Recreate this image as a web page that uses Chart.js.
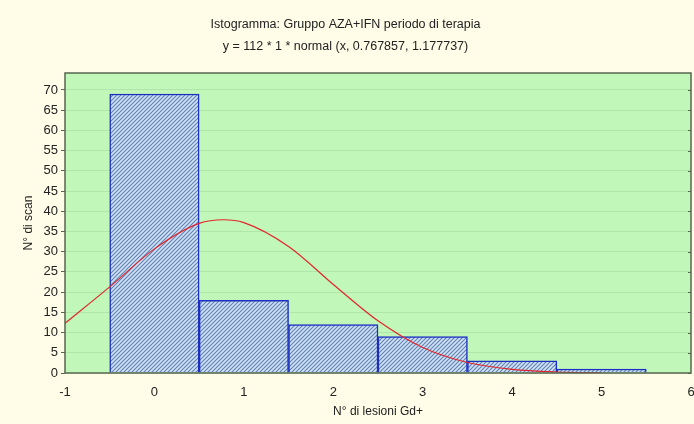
<!DOCTYPE html>
<html>
<head>
<meta charset="utf-8">
<script src="https://cdn.jsdelivr.net/npm/chart.js@4.4.1/dist/chart.umd.min.js"></script>
<style>
  html, body { margin: 0; padding: 0; background: #fffde8; }
  #wrap { width: 694px; height: 424px; }
</style>
</head>
<body>
<div id="wrap"><canvas id="chartIsto"></canvas></div>
<script>
// ---- dati ----
const lesioni = [0, 1, 2, 3, 4, 5];
const nScan = [69, 18, 12, 9, 3, 1];

const curvaX = [-1, -0.5, 0, 0.5, 0.77, 1, 1.5, 2, 2.5, 3, 3.5, 4, 4.5, 5];
const curvaY = [12.3, 21.3, 30.7, 37.0, 37.9, 37.2, 31.3, 21.9, 12.9, 6.3, 2.6, 0.9, 0.25, 0.06];

const xTicks = [-1, 0, 1, 2, 3, 4, 5, 6];
const yTicks = [0, 5, 10, 15, 20, 25, 30, 35, 40, 45, 50, 55, 60, 65, 70];

// ---- tratteggio delle barre ----
function makeHatch() {
    const c = document.createElement('canvas');
    c.width = 4; c.height = 4;
    const g = c.getContext('2d');
    g.fillStyle = '#d3e2f2';
    g.fillRect(0, 0, 4, 4);
    g.strokeStyle = '#5a80b8';
    g.lineWidth = 1.1;
    g.beginPath();
    g.moveTo(-1, 5); g.lineTo(5, -1);
    g.moveTo(-1, 1); g.lineTo(1, -1);
    g.moveTo(3, 5); g.lineTo(5, 3);
    g.stroke();
    return g.createPattern(c, 'repeat');
}

const sfondo = {
    id: 'sfondo',
    beforeDraw(chart) {
        const { ctx, chartArea: a } = chart;
        ctx.save();
        ctx.fillStyle = '#fffde8';
        ctx.fillRect(0, 0, chart.width, chart.height);
        ctx.fillStyle = '#c2f7ba';
        ctx.fillRect(a.left, a.top, a.right - a.left, a.bottom - a.top);
        ctx.restore();
    },
    afterDraw(chart) {
        const { ctx, chartArea: a, scales } = chart;
        ctx.save();
        ctx.strokeStyle = '#56664e';
        ctx.lineWidth = 1.5;
        ctx.strokeRect(a.left, a.top, a.right - a.left, a.bottom - a.top);
        // tacche interne sul lato destro
        ctx.lineWidth = 1;
        yTicks.forEach(v => {
            const y = Math.round(scales.y.getPixelForValue(v)) + 0.5;
            ctx.beginPath();
            ctx.moveTo(a.right - 3, y);
            ctx.lineTo(a.right, y);
            ctx.stroke();
        });
        ctx.restore();
    }
};

const ctx = document.getElementById('chartIsto').getContext('2d');
new Chart(ctx, {
    data: {
        datasets: [
            {
                type: 'line',
                label: 'normale',
                data: curvaX.map((x, i) => ({ x: x, y: curvaY[i] })),
                borderColor: '#e0262c',
                borderWidth: 1.2,
                pointRadius: 0,
                cubicInterpolationMode: 'monotone',
                fill: false,
                order: 0
            },
            {
                type: 'bar',
                label: 'N° di scan',
                data: lesioni.map((x, i) => ({ x: x, y: nScan[i] })),
                backgroundColor: makeHatch(),
                borderColor: '#1c2fc4',
                borderWidth: 1.5,
                barPercentage: 1,
                categoryPercentage: 1,
                grouped: false,
                order: 1
            }
        ]
    },
    options: {
        responsive: true,
        maintainAspectRatio: false,
        animation: false,
        layout: { padding: { left: 0, right: 3, top: 0, bottom: 0 } },
        plugins: {
            legend: { display: false },
            tooltip: { enabled: false },
            title: {
                display: true,
                text: ['Istogramma: Gruppo AZA+IFN periodo di terapia', 'y = 112 * 1 * normal (x, 0.767857, 1.177737)'],
                color: '#222',
                font: { family: "'Liberation Sans', Arial, sans-serif", size: 12.5, weight: 'normal', lineHeight: 1.76 },
                padding: { top: 14, bottom: 15 }
            }
        },
        scales: {
            x: {
                type: 'linear',
                min: -1,
                max: 6,
                offset: false,
                afterBuildTicks: s => { s.ticks = xTicks.map(v => ({ value: v })); },
                afterFit: s => { s.height = 51; s.paddingRight = 0; s.paddingLeft = 0; },
                grid: { display: false },
                border: { display: false },
                ticks: {
                    color: '#222',
                    padding: 4,
                    font: { family: "'Liberation Sans', Arial, sans-serif", size: 13 }
                },
                title: {
                    display: true,
                    text: 'N° di lesioni Gd+',
                    color: '#222',
                    font: { family: "'Liberation Sans', Arial, sans-serif", size: 12 },
                    padding: { top: 0, bottom: 5 }
                }
            },
            y: {
                min: 0,
                max: 74.2,
                afterBuildTicks: s => { s.ticks = yTicks.map(v => ({ value: v })); },
                afterFit: s => { s.width = 65; },
                grid: {
                    color: 'rgba(90, 140, 80, 0.16)',
                    tickColor: '#56664e',
                    tickLength: 4,
                    drawTicks: true
                },
                border: { display: false },
                ticks: {
                    color: '#222',
                    padding: 3,
                    font: { family: "'Liberation Sans', Arial, sans-serif", size: 13 }
                },
                title: {
                    display: true,
                    text: 'N° di scan',
                    color: '#222',
                    font: { family: "'Liberation Sans', Arial, sans-serif", size: 12 },
                    padding: { top: 21, bottom: 0 }
                }
            }
        }
    },
    plugins: [sfondo]
});
</script>
</body>
</html>
